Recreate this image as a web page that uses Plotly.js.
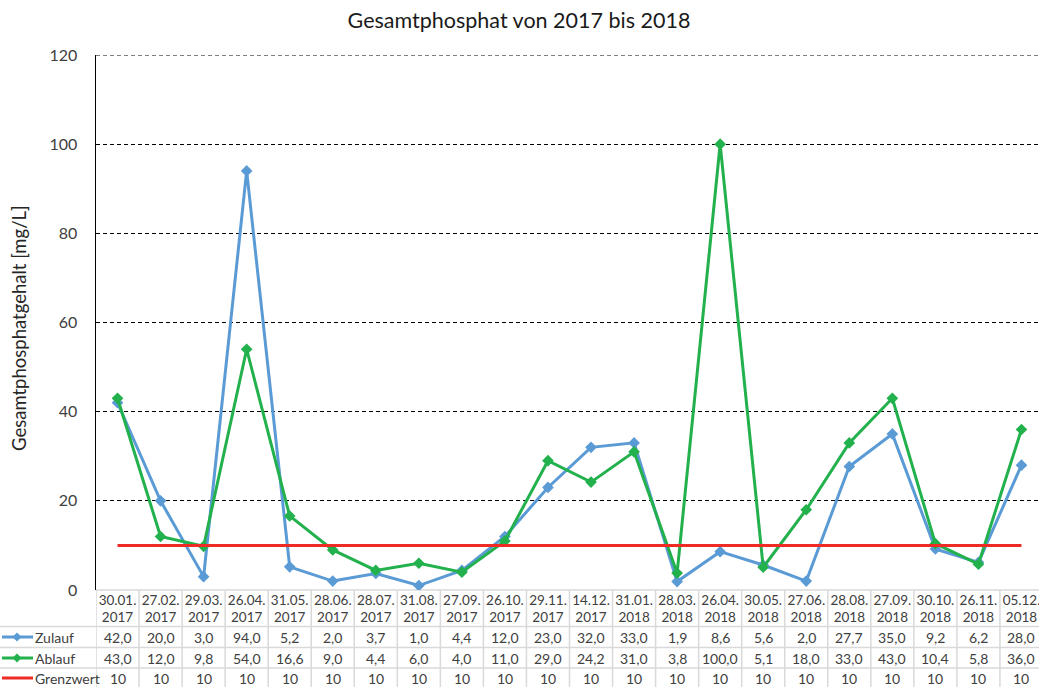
<!DOCTYPE html>
<html>
<head>
<meta charset="utf-8">
<script src="https://cdn.plot.ly/plotly-3.0.1.min.js"></script>
<style>
html,body{margin:0;padding:0;overflow:hidden;background:#fff;}
#chart{width:1043px;height:687px;}
</style>
</head>
<body>
<div id="chart"></div>
<script>
const dates = ["30.01.2017","27.02.2017","29.03.2017","26.04.2017","31.05.2017","28.06.2017","28.07.2017","31.08.2017","27.09.2017","26.10.2017","29.11.2017","14.12.2017","31.01.2018","28.03.2018","26.04.2018","30.05.2018","27.06.2018","28.08.2018","27.09.2018","30.10.2018","26.11.2018","05.12.2018"];
const zulauf = [42.0,20.0,3.0,94.0,5.2,2.0,3.7,1.0,4.4,12.0,23.0,32.0,33.0,1.9,8.6,5.6,2.0,27.7,35.0,9.2,6.2,28.0];
const ablauf = [43.0,12.0,9.8,54.0,16.6,9.0,4.4,6.0,4.0,11.0,29.0,24.2,31.0,3.8,100.0,5.1,18.0,33.0,43.0,10.4,5.8,36.0];
const grenzwert = [10,10,10,10,10,10,10,10,10,10,10,10,10,10,10,10,10,10,10,10,10,10];
const seriesNames = ["Zulauf","Ablauf","Grenzwert"];
const yTicks = [0,20,40,60,80,100,120];

const FONT = "Lato, 'Open Sans', sans-serif";
const TXT = "#404040";
const BLUE = "#5b9bd5", GREEN = "#22b14c", RED = "#ee2b24";

const W = 1043, H = 687, ML = 96, MT = 55, MB = 97, MR = 0;
const PW = W - ML - MR, PH = H - MT - MB;
const px = v => (v - ML) / PW;          // pixel x -> paper
const py = v => (H - MB - v) / PH;      // pixel y -> paper

const cats = dates.map(d => d.slice(0,6) + "<br>" + d.slice(6));

const traces = [
  {x: cats, y: zulauf, name: seriesNames[0], type: "scatter", mode: "lines+markers",
   line: {color: BLUE, width: 3}, marker: {symbol: "diamond", size: 9, color: BLUE}},
  {x: cats, y: ablauf, name: seriesNames[1], type: "scatter", mode: "lines+markers",
   line: {color: GREEN, width: 3}, marker: {symbol: "diamond", size: 9, color: GREEN}},
  {x: cats, y: grenzwert, name: seriesNames[2], type: "scatter", mode: "lines",
   line: {color: RED, width: 3}}
];

const GRID = "#d9d9d9";
const shapes = [];
const annotations = [];
const rowY = [637, 658, 678];
const rowLines = [626.5, 647.5, 668];
// top dashed gridline at the range maximum
shapes.push({type:"line", xref:"paper", yref:"y", x0:0, x1:1, y0:yTicks[yTicks.length-1], y1:yTicks[yTicks.length-1],
  line:{color:"#000", width:1, dash:"4px,3px"}, layer:"below"});
// table horizontal lines
shapes.push({type:"line", xref:"paper", yref:"paper", x0:0, x1:1, y0:py(590), y1:py(590), line:{color:GRID, width:1.5}, layer:"below"});
rowLines.forEach(yy => shapes.push({type:"line", xref:"paper", yref:"paper", x0:px(0), x1:1, y0:py(yy), y1:py(yy), line:{color:GRID, width:1.5}}));
// table vertical lines
for (let i = 0; i <= dates.length; i++) {
  shapes.push({type:"line", xref:"x", yref:"paper", x0:i-0.5, x1:i-0.5, y0:py(590), y1:py(700), line:{color:GRID, width:1.5}});
}
// row values
const rows = [zulauf, ablauf, grenzwert];
rows.forEach((arr, r) => {
  arr.forEach((v, i) => {
    const t = r === 2 ? String(v) : v.toFixed(1).replace(".", ",");
    annotations.push({xref:"x", yref:"paper", x:i, y:py(rowY[r]), text:t, showarrow:false,
      font:{family:FONT, size:14, color:TXT}, xanchor:"center", yanchor:"middle"});
  });
});
// legend keys in left column
const keyColors = [BLUE, GREEN, RED];
seriesNames.forEach((n, r) => {
  shapes.push({type:"line", xref:"paper", yref:"paper", x0:px(2), x1:px(33), y0:py(rowY[r]), y1:py(rowY[r]), line:{color:keyColors[r], width:3}});
  if (r < 2) {
    shapes.push({type:"path", xref:"paper", yref:"paper", xsizemode:"pixel", ysizemode:"pixel",
      xanchor:px(17), yanchor:py(rowY[r]), path:"M -4.5 0 L 0 4.5 L 4.5 0 L 0 -4.5 Z",
      fillcolor:keyColors[r], line:{color:keyColors[r], width:0}});
  }
  annotations.push({xref:"paper", yref:"paper", x:px(33), y:py(rowY[r]), text:n, showarrow:false,
    font:{family:FONT, size:14, color:TXT}, xanchor:"left", yanchor:"middle"});
});
// y-axis title
annotations.push({xref:"paper", yref:"paper", x:px(19), y:py(328), text:"Gesamtphosphatgehalt [mg/L]",
  textangle:-90, showarrow:false, xanchor:"center", yanchor:"middle",
  font:{family:FONT, size:18.5, color:"#262626"}});

const layout = {
  width: W, height: H,
  margin: {l: ML, r: MR, t: MT, b: MB},
  paper_bgcolor: "#fff", plot_bgcolor: "#fff",
  showlegend: false,
  title: {text: "Gesamtphosphat von 2017 bis 2018", font: {family: FONT, size: 21.5, color: "#1a1a1a"},
          x: 519/W, xanchor: "center", y: 1 - 20/H, yanchor: "middle"},
  xaxis: {type: "category", range: [-0.5, dates.length - 0.5], showgrid: false, zeroline: false,
          showline: false, ticks: "", tickfont: {family: FONT, size: 13.5, color: TXT}, fixedrange: true},
  yaxis: {range: [0, 120], tickvals: yTicks, ticktext: yTicks.map(String),
          showgrid: true, gridcolor: "#000", griddash: "4px,3px", gridwidth: 1,
          zeroline: false, showline: true, linecolor: "#000", linewidth: 1.5,
          ticks: "", ticklabelstandoff: 14, tickfont: {family: FONT, size: 16, color: TXT}},
  shapes: shapes,
  annotations: annotations
};

Plotly.newPlot("chart", traces, layout, {staticPlot: true});
</script>
</body>
</html>
